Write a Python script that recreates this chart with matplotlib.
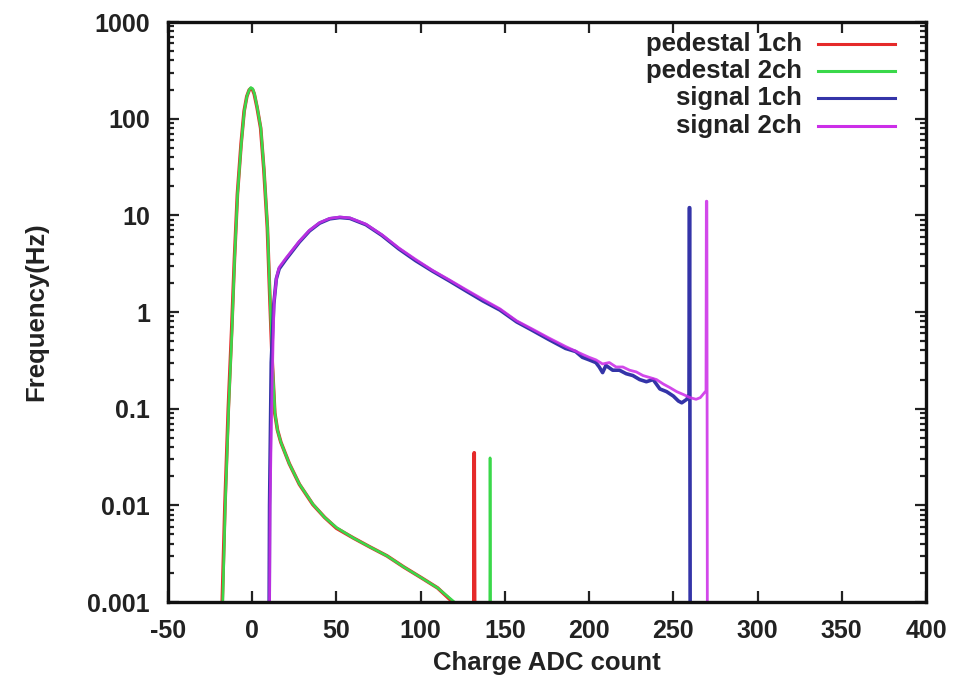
import matplotlib
matplotlib.use("Agg")
import matplotlib.pyplot as plt
from matplotlib.lines import Line2D
from matplotlib.ticker import FixedLocator, FixedFormatter, LogLocator, NullFormatter

# pedestal 1ch (red)
ped1_x = [-17.8, -16.2, -14.2, -12.2, -10.6, -8.8, -6.6, -4.8, -3.2, -1.8, -0.9, 0.2, 1.2,
          2.9, 5.0, 6.9, 9.0, 10.4, 11.9, 13.4, 15, 17, 22, 28, 36, 43, 50, 60, 70, 80,
          90, 100, 110, 119, 125, 131.5, 131.8, 132.1, 140]
ped1_y = [0.001, 0.01, 0.1, 0.65, 3.4, 16.5, 55, 120, 170, 198, 205, 200, 180,
          130, 80, 30, 7.4, 1.5, 0.3, 0.09, 0.06, 0.045, 0.027, 0.0165, 0.0102, 0.0075,
          0.0058, 0.0046, 0.0037, 0.003, 0.0023, 0.0018, 0.0014, 0.001, 0.0005, 0.0005,
          0.035, 0.0005, 0.0005]

# pedestal 2ch (green)
ped2_x = [-17.5, -16, -14, -12, -10.5, -8.7, -6.5, -4.7, -3.1, -1.7, -0.8, 0.3, 1.3,
          3, 5.1, 7, 9.1, 10.5, 12, 13.5, 15, 17, 22, 28, 36, 43, 50, 60, 70, 80, 90,
          100, 110, 120, 125, 141.0, 141.2, 141.5, 150]
ped2_y = [0.001, 0.01, 0.1, 0.65, 3.4, 16.5, 55, 120, 172, 200, 210, 204, 182,
          130, 80, 30, 7.4, 1.5, 0.3, 0.09, 0.06, 0.045, 0.027, 0.0166, 0.0103, 0.0075,
          0.0059, 0.0046, 0.0037, 0.003, 0.0023, 0.0018, 0.0014, 0.001, 0.0005, 0.0005,
          0.031, 0.0005, 0.0005]

# signal 1ch (blue)
sig1_x = [10.0, 10.3, 11.3, 12.8, 14.3, 16, 20, 28, 34, 40, 46, 52, 58, 67.5, 77, 87,
          97, 107, 117, 127, 137, 147, 157, 166, 176, 186, 192, 196, 200, 204, 206,
          208, 210, 214, 218, 222, 226, 230, 234, 238, 242, 246, 250, 253, 255, 258,
          259.3, 259.5, 259.7, 260]
sig1_y = [0.0005, 0.01, 0.3, 1.2, 2.2, 2.8, 3.5, 5.3, 6.9, 8.3, 9.2, 9.5, 9.3, 8.0,
          6.2, 4.5, 3.4, 2.65, 2.1, 1.65, 1.3, 1.05, 0.79, 0.65, 0.52, 0.42, 0.39,
          0.34, 0.32, 0.3, 0.27, 0.236, 0.28, 0.25, 0.25, 0.23, 0.22, 0.2, 0.19, 0.2,
          0.16, 0.15, 0.135, 0.12, 0.115, 0.125, 0.14, 12, 12, 0.0005]

# signal 2ch (magenta)
sig2_x = [10.2, 10.6, 11.5, 12.5, 13, 14.5, 16, 20, 28, 34, 40, 46, 52, 58, 67.5, 77,
          87, 97, 107, 117, 127, 137, 147, 157, 166, 176, 186, 196, 200, 204, 208,
          212, 216, 220, 224, 228, 232, 236, 240, 244, 248, 252, 256, 260, 263.5,
          266, 269.4, 269.6, 269.9, 270.2]
sig2_y = [0.0005, 0.01, 0.1, 0.6, 1.3, 2.3, 2.9, 3.6, 5.4, 7.0, 8.4, 9.3, 9.6, 9.4,
          8.1, 6.3, 4.6, 3.5, 2.7, 2.15, 1.7, 1.35, 1.08, 0.81, 0.67, 0.54, 0.44,
          0.365, 0.34, 0.32, 0.29, 0.3, 0.27, 0.27, 0.25, 0.24, 0.22, 0.21, 0.2,
          0.18, 0.165, 0.15, 0.14, 0.13, 0.125, 0.13, 0.153, 14, 14, 0.0005]

labels = ["pedestal 1ch", "pedestal 2ch", "signal 1ch", "signal 2ch"]
colors = ["#e52a2a", "#3ad84a", "#3434a8", "#cc2ee8"]

xticks = [-50, 0, 50, 100, 150, 200, 250, 300, 350, 400]
yticks = [0.001, 0.01, 0.1, 1, 10, 100, 1000]
ytick_labels = ["0.001", "0.01", "0.1", "1", "10", "100", "1000"]

plt.rcParams["font.family"] = ["Liberation Sans", "DejaVu Sans"]
plt.rcParams["font.weight"] = "bold"
plt.rcParams["axes.unicode_minus"] = False

fig = plt.figure(figsize=(9.57, 6.86), dpi=100)
ax = fig.add_axes([168 / 957, 84 / 686, 758 / 957, 580 / 686])

ax.plot(ped1_x, ped1_y, color=colors[0], lw=2.6)
ax.plot(ped2_x, ped2_y, color=colors[1], lw=1.9)
ax.plot(sig1_x, sig1_y, color=colors[2], lw=2.6)
# magenta over blue, slightly see-through so the overlap looks purple like the original
ax.plot(sig2_x, sig2_y, color=colors[3], lw=2.0, alpha=0.88)

ax.set_yscale("log")
ax.set_xlim(-50, 400)
ax.set_ylim(0.001, 1000)
ax.xaxis.set_major_locator(FixedLocator(xticks))
ax.yaxis.set_major_locator(FixedLocator(yticks))
ax.yaxis.set_major_formatter(FixedFormatter(ytick_labels))
ax.yaxis.set_minor_locator(LogLocator(base=10, subs=range(2, 10)))
ax.yaxis.set_minor_formatter(NullFormatter())

ax.tick_params(which="both", direction="in", top=True, right=True,
               labelsize=18, colors="#222222", width=1.6)
ax.tick_params(which="major", length=8)
ax.tick_params(axis="y", which="major", pad=13)
ax.tick_params(axis="x", which="major", pad=12)
ax.tick_params(which="minor", length=4)
for lab in ax.get_xticklabels() + ax.get_yticklabels():
    lab.set_fontweight("bold")
for sp in ax.spines.values():
    sp.set_linewidth(2.4)
    sp.set_color("#111111")

ax.set_xlabel("Charge ADC count", fontsize=18.5, fontweight="bold", color="#222222", labelpad=6)
ax.set_ylabel("Frequency(Hz)", fontsize=18.5, fontweight="bold", color="#222222", labelpad=28)

# legend: right aligned text, sample line to the right
leg_y = [0.962, 0.9155, 0.869, 0.821]
for lab, col, yy in zip(labels, colors, leg_y):
    ax.text(0.8364, yy, lab, transform=ax.transAxes, ha="right", va="center",
            fontsize=18.5, fontweight="bold", color="#222222")
    ax.add_line(Line2D([0.8575, 0.959], [yy, yy], transform=ax.transAxes,
                       color=col, lw=2.2))

fig.savefig("out.png", dpi=100)
